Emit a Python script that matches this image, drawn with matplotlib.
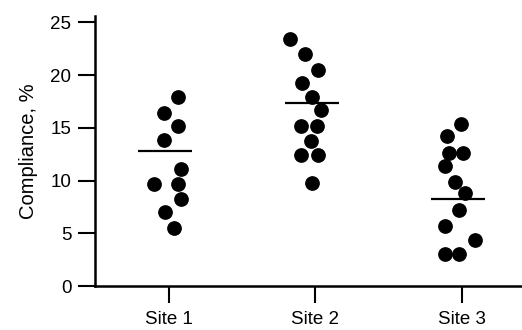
import matplotlib
matplotlib.use('Agg')
import matplotlib.pyplot as plt
import numpy as np

plt.rcParams['font.family'] = ['Liberation Sans', 'DejaVu Sans']

SITES = ['Site 1', 'Site 2', 'Site 3']

# compliance values (%), with horizontal jitter offsets
site1_vals = [17.9, 16.4, 15.15, 13.9, 11.1, 9.7, 9.7, 8.3, 7.0, 5.5]
site1_dx   = [0.059, -0.032, 0.063, -0.032, 0.082, -0.10, 0.059, 0.082, -0.027, 0.036]
site2_vals = [23.45, 21.97, 20.5, 19.3, 17.9, 16.7, 15.15, 15.15, 13.8, 12.4, 12.4, 9.8]
site2_dx   = [-0.171, -0.073, 0.018, -0.091, -0.027, 0.036, -0.096, 0.011, -0.032, -0.096, 0.018, -0.023]
site3_vals = [15.4, 14.2, 12.6, 12.6, 11.4, 9.9, 8.8, 7.2, 5.7, 4.4, 3.0, 3.0]
site3_dx   = [-0.005, -0.10, -0.087, 0.004, -0.114, -0.046, 0.023, -0.023, -0.119, 0.086, -0.114, -0.018]
means      = [12.8, 17.4, 8.24]

fig = plt.figure(figsize=(5.22, 3.3), dpi=100)
ax = fig.add_axes([0.182, 0.133, 0.818, 0.82])

groups = [(site1_vals, site1_dx), (site2_vals, site2_dx), (site3_vals, site3_dx)]
for i, (vals, dx) in enumerate(groups, start=1):
    ax.scatter(i + np.array(dx), vals, s=92, color='black', zorder=3)
    ax.hlines(means[i - 1], i - 0.21, i + 0.16, color='black', lw=1.6, zorder=4)

ax.set_xlim(0.495, 3.41)
ax.set_ylim(0, 25.66)
ax.set_xticks([1, 2, 3])
ax.set_xticklabels(SITES)
ax.set_yticks([0, 5, 10, 15, 20, 25])
ax.set_ylabel('Compliance, %', fontsize=14.5, labelpad=9)
ax.tick_params(axis='both', labelsize=13.5, width=1.5, length=12, colors='black')
ax.tick_params(axis='y', pad=5)
ax.tick_params(axis='x', pad=6)
for s in ['top', 'right']:
    ax.spines[s].set_visible(False)
for s in ['left', 'bottom']:
    ax.spines[s].set_linewidth(1.8)

fig.savefig('out.png', dpi=100)
